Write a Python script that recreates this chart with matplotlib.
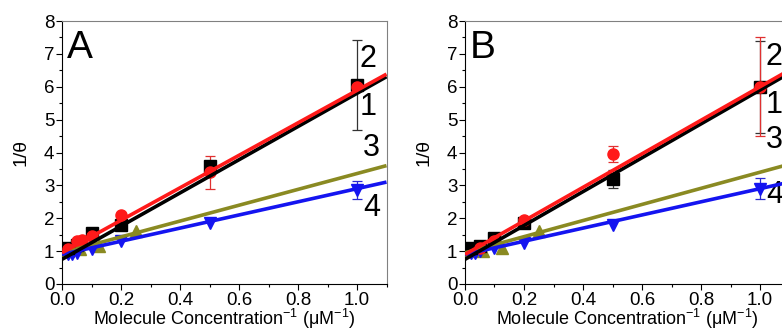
import numpy as np
import matplotlib
matplotlib.use('Agg')
import matplotlib.pyplot as plt
from matplotlib.ticker import MultipleLocator

plt.rcParams['font.family'] = ['Liberation Sans', 'DejaVu Sans']
plt.rcParams['mathtext.fontset'] = 'custom'
plt.rcParams['mathtext.rm'] = 'Liberation Sans'
plt.rcParams['mathtext.it'] = 'Liberation Sans'

# ---- data ----
# panel A
xA1 = [0.02, 0.05, 0.1, 0.2, 0.5, 1.0]
yA1 = [1.1, 1.2, 1.55, 1.8, 3.6, 6.05]
eA1 = [0, 0, 0, 0, 0, 1.37]
xA2 = [0.02, 0.05, 0.067, 0.1, 0.2, 0.5, 1.0]
yA2 = [1.05, 1.3, 1.35, 1.45, 2.1, 3.4, 6.0]
eA2 = [0, 0, 0, 0, 0, 0.5, 0]
xA3 = [0.02, 0.0625, 0.125, 0.25]
yA3 = [1.0, 1.05, 1.15, 1.6]
eA3 = [0, 0, 0, 0]
xA4 = [0.02, 0.033, 0.05, 0.1, 0.2, 0.5, 1.0]
yA4 = [0.9, 0.9, 0.95, 1.05, 1.3, 1.85, 2.85]
eA4 = [0, 0, 0, 0, 0, 0, 0.27]
# fit lines: intercept, slope
fitA = {'1': (0.75, 5.05), '2': (0.95, 4.94), '3': (0.95, 2.41), '4': (0.9, 2.0)}

# panel B
xB1 = [0.02, 0.05, 0.1, 0.2, 0.5, 1.0]
yB1 = [1.1, 1.15, 1.4, 1.85, 3.2, 6.0]
eB1 = [0, 0, 0, 0, 0.28, 1.4]
xB2 = [0.05, 0.1, 0.2, 0.5, 1.0]
yB2 = [1.1, 1.3, 1.95, 3.95, 6.0]
eB2 = [0, 0, 0, 0.25, 1.5]
xB3 = [0.02, 0.0625, 0.125, 0.25]
yB3 = [1.0, 1.0, 1.1, 1.6]
eB3 = [0, 0, 0, 0]
xB4 = [0.02, 0.033, 0.05, 0.1, 0.2, 0.5, 1.0]
yB4 = [0.95, 0.95, 1.0, 1.1, 1.25, 1.8, 2.9]
eB4 = [0, 0, 0, 0, 0, 0, 0.32]
fitB = {'1': (0.75, 5.15), '2': (0.9, 5.1), '3': (0.95, 2.45), '4': (0.9, 2.0)}

# curve label positions (x, y)
labA = {'2': (1.01, 6.85), '1': (1.01, 5.38), '3': (1.02, 4.14), '4': (1.02, 2.3)}
labB = {'2': (1.02, 6.9), '1': (1.02, 5.44), '3': (1.02, 4.38), '4': (1.02, 2.7)}

colors = {'1': 'black', '2': '#ff1a1a', '3': '#8a8a22', '4': '#1414f0'}
markers = {'1': 's', '2': 'o', '3': '^', '4': 'v'}
ecolors = {'1': '#333333', '2': '#e03030', '3': '#8a8a22', '4': '#2a2ad0'}

fig = plt.figure(figsize=(7.82, 3.34), dpi=100)
axA = fig.add_axes([62/782, 50/334, 324.5/782, 263/334])
axB = fig.add_axes([465/782, 50/334, 324.5/782, 263/334])


def draw(ax, pts, fits, labs, letter):
    for key in ['3', '4', '1', '2']:
        x, y, e = pts[key]
        ax.errorbar(x, y, yerr=[v if v > 0 else np.nan for v in e], fmt=markers[key],
                    color=colors[key], ecolor=ecolors[key], elinewidth=0.9,
                    capsize=3.5, capthick=0.9, markersize=8, zorder=3)
    xx = np.array([0.0, 1.1])
    for key in ['3', '4', '1', '2']:
        b, m = fits[key]
        ax.plot(xx, b + m * xx, color=colors[key], linewidth=2.6, zorder=4,
                solid_capstyle='butt')
    for key, (lx, ly) in labs.items():
        ax.text(lx, ly, key, fontsize=22, ha='left', va='center', clip_on=False)
    ax.text(0.015, 7.72, letter, fontsize=28, ha='left', va='top')

    ax.set_xlim(0, 1.1)
    ax.set_ylim(0, 8)
    ax.xaxis.set_major_locator(MultipleLocator(0.2))
    ax.xaxis.set_minor_locator(MultipleLocator(0.1))
    ax.yaxis.set_major_locator(MultipleLocator(1))
    ax.yaxis.set_minor_locator(MultipleLocator(0.5))
    ax.tick_params(which='both', direction='out', top=False, right=False,
                   labelsize=13.5, width=0.8, pad=1.5)
    ax.tick_params(which='major', length=4)
    ax.tick_params(which='minor', length=2.5)
    for s in ['top', 'right']:
        ax.spines[s].set_color('#808080')
        ax.spines[s].set_linewidth(0.8)
    for s in ['left', 'bottom']:
        ax.spines[s].set_linewidth(0.8)
    ax.set_xlabel('Molecule Concentration$^{-1}$ (\u03bcM$^{-1}$)', fontsize=13, labelpad=-1)
    ax.set_ylabel('1/\u03b8', fontsize=14, labelpad=10)


draw(axA, {'1': (xA1, yA1, eA1), '2': (xA2, yA2, eA2), '3': (xA3, yA3, eA3), '4': (xA4, yA4, eA4)},
     fitA, labA, 'A')
draw(axB, {'1': (xB1, yB1, eB1), '2': (xB2, yB2, eB2), '3': (xB3, yB3, eB3), '4': (xB4, yB4, eB4)},
     fitB, labB, 'B')

fig.savefig('out.png', dpi=100)
